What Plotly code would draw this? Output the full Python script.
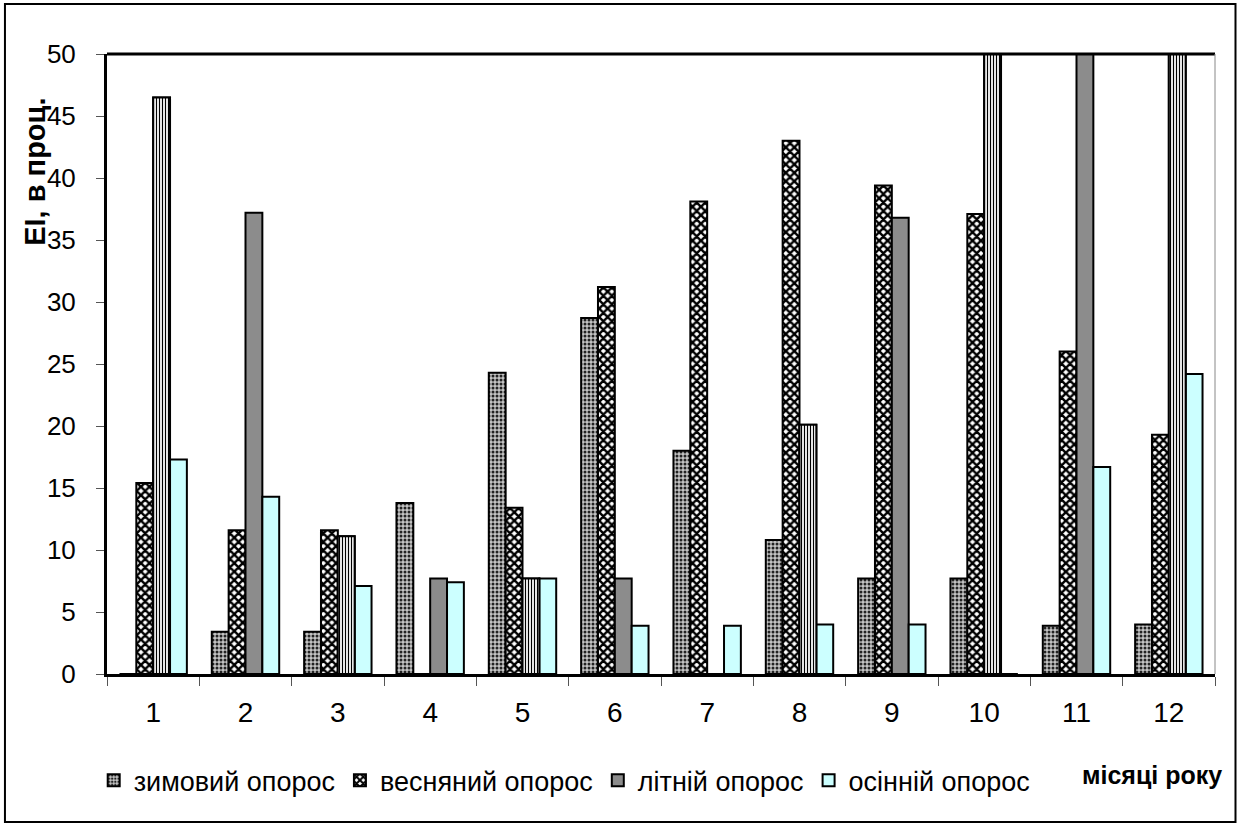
import plotly.graph_objects as go

months = ["1", "2", "3", "4", "5", "6", "7", "8", "9", "10", "11", "12"]
series_names = ["зимовий опорос", "весняний опорос", "літній опорос", "осінній опорос"]
winter = [0, 3.4, 3.4, 13.8, 24.3, 28.7, 18.0, 10.8, 7.7, 7.7, 3.9, 4.0]
spring = [15.4, 11.6, 11.6, 0, 13.4, 31.2, 38.1, 43.0, 39.4, 37.1, 26.0, 19.3]
summer = [46.5, 37.2, 11.1, 7.7, 7.7, 7.7, 0, 20.1, 36.8, 55.0, 58.0, 56.0]
autumn = [17.3, 14.3, 7.1, 7.4, 7.7, 3.9, 3.9, 4.0, 4.0, 0, 16.7, 24.2]
summer_striped = [True, False, True, False, True, False, False, True, False, True, False, True]
y_ticks = [0, 5, 10, 15, 20, 25, 30, 35, 40, 45, 50]

FONT_N = "Liberation Sans, Arial, sans-serif"
LINE = dict(color="black", width=2)

fig = go.Figure()
fig.add_trace(go.Bar(
    x=months, y=winter, name=series_names[0], offsetgroup="w",
    marker=dict(color="#b4b4b4", line=LINE,
                pattern=dict(shape=".", fgcolor="#222222", bgcolor="#c4c4c4", size=4, solidity=0.45, fillmode="replace")),
))
fig.add_trace(go.Bar(
    x=months, y=spring, name=series_names[1], offsetgroup="sp",
    marker=dict(color="white", line=LINE,
                pattern=dict(shape="x", fgcolor="black", bgcolor="white", size=6, solidity=0.65, fillmode="replace")),
))
fig.add_trace(go.Bar(
    x=months, y=summer, name=series_names[2], offsetgroup="su",
    marker=dict(color="#8c8c8c", line=LINE),
))
fig.add_trace(go.Bar(
    x=months, y=autumn, name=series_names[3], offsetgroup="a",
    marker=dict(color="#ccffff", line=LINE),
))
# individually formatted (striped) summer points drawn over the solid ones
fig.add_trace(go.Bar(
    x=months, y=[v if s else None for v, s in zip(summer, summer_striped)],
    name=series_names[2], offsetgroup="su", showlegend=False,
    marker=dict(color="white", line=LINE,
                pattern=dict(shape="|", fgcolor="black", bgcolor="white", size=3, solidity=0.4, fillmode="replace")),
))

fig.update_layout(
    width=1240, height=827,
    margin=dict(l=107, r=25, t=54, b=153, autoexpand=False),
    paper_bgcolor="white", plot_bgcolor="white",
    barmode="group", bargap=0.27, bargroupgap=0,
    font=dict(family=FONT_N, size=27, color="black"),
    showlegend=True,
    legend=dict(orientation="h", x=-0.012, xanchor="left", y=-0.172, yanchor="middle",
                font=dict(family=FONT_N, size=27), itemwidth=30, tracegroupgap=0,
                bgcolor="rgba(0,0,0,0)"),
    xaxis=dict(type="category", showgrid=False, showline=True, linecolor="black", linewidth=3,
               mirror=False, ticks="outside", tickson="boundaries", ticklen=9, tickcolor="#555555",
               tickwidth=1, ticklabelstandoff=11, tickfont=dict(family=FONT_N, size=28), automargin=False),
    yaxis=dict(range=[0, 50], showgrid=False, showline=True, linecolor="black", linewidth=3,
               ticks="outside", ticklen=8, tickcolor="#555555", tickwidth=1, tickvals=y_ticks,
               ticklabelstandoff=15, tickfont=dict(family=FONT_N, size=26), zeroline=False, automargin=False),
    shapes=[
        dict(type="line", xref="paper", yref="paper", x0=0, x1=1, y0=1, y1=1, line=dict(color="black", width=3)),
        dict(type="line", xref="paper", yref="paper", x0=1, x1=1, y0=0, y1=1, line=dict(color="#888888", width=1)),
        dict(type="rect", xref="paper", yref="paper", x0=-0.0921, x1=1.0185, y0=-0.2387, y1=1.0806,
             line=dict(color="black", width=2), layer="below"),
    ],
    annotations=[
        dict(text="ЕІ, в проц.", xref="paper", yref="paper", x=-0.065, y=0.81, textangle=-90,
             showarrow=False, font=dict(family=FONT_N, size=29, color="black", weight="bold"),
             xanchor="center", yanchor="middle"),
        dict(text="місяці року", xref="paper", yref="paper", x=0.943, y=-0.163,
             showarrow=False, font=dict(family=FONT_N, size=25, color="black", weight="bold"),
             xanchor="center", yanchor="middle"),
    ],
)

fig.write_html("out.html", config={"displayModeBar": False},
               post_script="document.body.style.margin='0px';document.body.style.overflow='hidden';")
